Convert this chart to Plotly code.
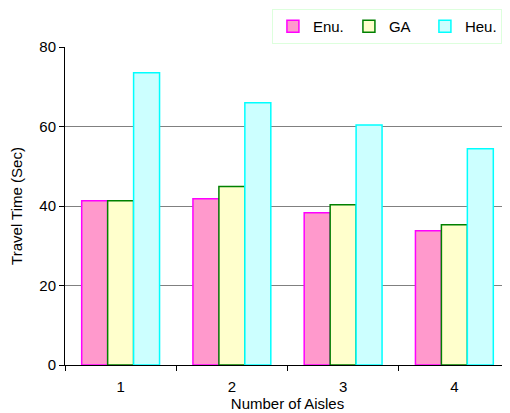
import plotly.graph_objects as go

categories = ["1", "2", "3", "4"]
enu = [41.3, 41.8, 38.3, 33.8]
ga = [41.3, 44.9, 40.3, 35.3]
heu = [73.5, 66.0, 60.4, 54.4]

series = [
    ("Enu.", enu, "#FF99CC", "#FF00FF"),
    ("GA", ga, "#FFFFCC", "#008000"),
    ("Heu.", heu, "#CCFFFF", "#00FFFF"),
]

fig = go.Figure()
for name, vals, fill, line in series:
    fig.add_trace(go.Bar(
        x=categories, y=vals, name=name,
        marker=dict(color=fill, line=dict(color=line, width=1.5)),
    ))

# page body has an 8px default margin, so the figure is sized to fit the 510x413 window
fig.update_layout(
    width=502, height=405,
    margin=dict(l=57, r=0, t=39, b=48, autoexpand=False),
    paper_bgcolor="white", plot_bgcolor="white",
    font=dict(family="Liberation Sans, Arial, sans-serif", size=15, color="#000000"),
    barmode="group", bargap=0.3, bargroupgap=0,
    showlegend=True,
    legend=dict(
        orientation="h", x=0.465, xanchor="left", y=1.1195, yanchor="top",
        bordercolor="#DDFFDD", borderwidth=1, bgcolor="white",
        font=dict(size=15), itemwidth=30, entrywidth=31, traceorder="normal",
    ),
    xaxis=dict(
        title=dict(text="Number of Aisles", standoff=0, font=dict(size=15)),
        tickson="boundaries", ticks="outside", ticklen=5, tickcolor="black",
        ticklabelstandoff=8,
        showline=True, linecolor="black", linewidth=1,
        range=[-0.5, 3.5], showgrid=False,
    ),
    yaxis=dict(
        title=dict(text="Travel Time (Sec)", standoff=21, font=dict(size=15)),
        range=[0, 80], dtick=20, ticks="outside", ticklen=5, tickcolor="black",
        showline=True, linecolor="black", linewidth=1,
        showgrid=True, gridcolor="#808080", gridwidth=1, zeroline=False,
    ),
)

fig.write_html("out.html")
